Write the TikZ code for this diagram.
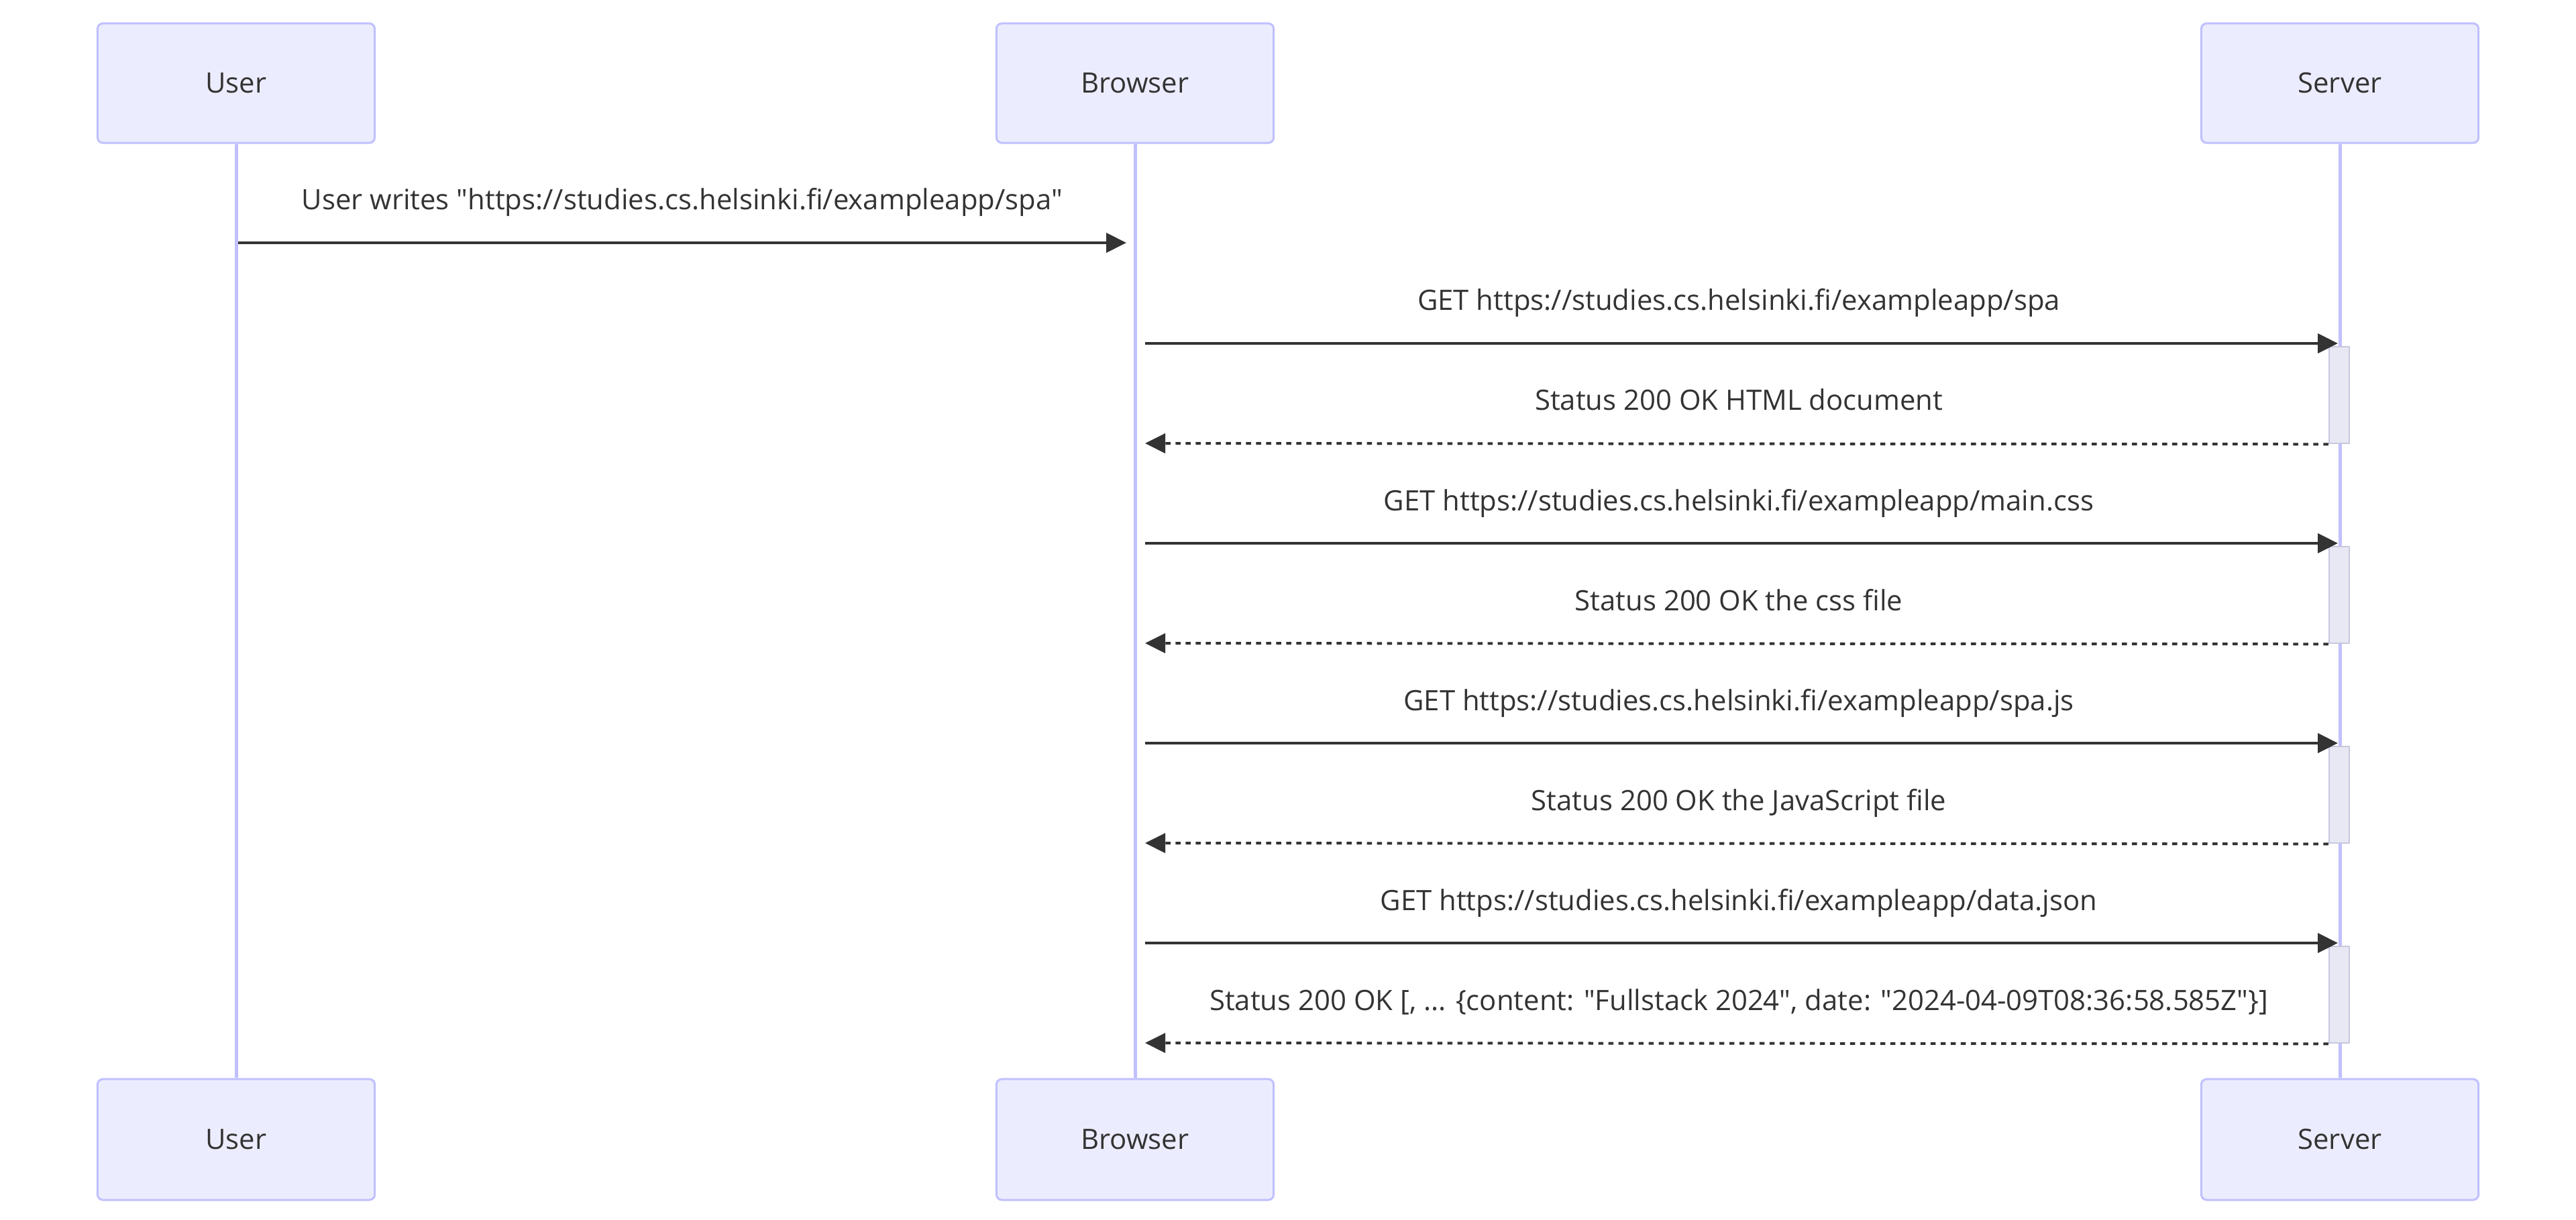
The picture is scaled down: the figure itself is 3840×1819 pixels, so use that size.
\documentclass[tikz,border=0pt]{standalone}
\usepackage{fontspec}
\setmainfont{Open Sans}
\usetikzlibrary{arrows.meta}
\definecolor{actfill}{HTML}{ECECFF}
\definecolor{actline}{HTML}{C0C0FF}
\definecolor{txt}{HTML}{333333}
\definecolor{actvfill}{RGB}{232,232,244}
\definecolor{actvline}{RGB}{200,200,222}
\newcommand{\qd}{\textquotedbl}
\tikzset{
  actor/.style={draw=actline, line width=0.03cm, fill=actfill, rounded corners=0.08cm,
    minimum width=4.13cm, minimum height=1.78cm, inner sep=0pt, text=txt,
    font=\fontsize{11.9pt}{14pt}\selectfont},
  life/.style={draw=actline, line width=0.05cm},
  actv/.style={draw=actvline, line width=0.025cm, fill=actvfill, minimum width=0.3cm,
    minimum height=1.44cm, inner sep=0pt},
  msg/.style={draw=txt, line width=0.04cm, -{Triangle[length=0.3cm,width=0.29cm]}},
  reply/.style={msg, dash pattern=on 0.075cm off 0.075cm},
  lbl/.style={anchor=base, text=txt, inner sep=0pt, font=\fontsize{11.9pt}{14pt}\selectfont}
}
\begin{document}
\begin{tikzpicture}[x=0.01cm, y=-0.01cm]
\useasboundingbox (0,0) rectangle (3840,1819);
% actors
\node[actor] (uT) at (352,124) {User};
\node[actor] (bT) at (1692,124) {Browser};
\node[actor] (sT) at (3488,124) {Server};
\node[actor, minimum height=1.8cm] (uB) at (352,1699) {User};
\node[actor, minimum height=1.8cm] (bB) at (1692,1699) {Browser};
\node[actor, minimum height=1.8cm] (sB) at (3488,1699) {Server};
% lifelines
\draw[life] (uT.south) -- (uB.north);
\draw[life] (bT.south) -- (bB.north);
\draw[life] (sT.south) -- (sB.north);
% activations
\foreach \i in {0,1,2,3}{
  \node[actv] (act\i) at (3487,{589+298*\i}) {};
}
% message 1
\coordinate (m1s) at (355,362);
\coordinate (m1e) at (1679,362);
\draw[msg] (m1s) -- (m1e);
\node[lbl] (l1) at (1017,313) {User writes \qd https://studies.cs.helsinki.fi/exampleapp/spa\qd};
% requests and replies
\foreach \i/\req/\rep in {
  0/{GET https://studies.cs.helsinki.fi/exampleapp/spa}/{Status 200 OK HTML document},
  1/{GET https://studies.cs.helsinki.fi/exampleapp/main.css}/{Status 200 OK the css file},
  2/{GET https://studies.cs.helsinki.fi/exampleapp/spa.js}/{Status 200 OK the JavaScript file},
  3/{GET https://studies.cs.helsinki.fi/exampleapp/data.json}/{Status 200 OK [, ... \{content: \qd Fullstack 2024\qd, date: \qd 2024-04-09T08:36:58.585Z\qd\}]}}{
  \coordinate (rqs\i) at (1707,{512+298*\i});
  \coordinate (rqe\i) at (3485,{512+298*\i});
  \draw[msg] (rqs\i) -- (rqe\i);
  \node[lbl] (rql\i) at (2592,{463+298*\i}) {\req};
  \coordinate (rpe\i) at (1707,{661+298*\i});
  \draw[reply] (act\i.south west) -- (rpe\i);
  \node[lbl] (rpl\i) at (2592,{612+298*\i}) {\rep};
}
\end{tikzpicture}
\end{document}
